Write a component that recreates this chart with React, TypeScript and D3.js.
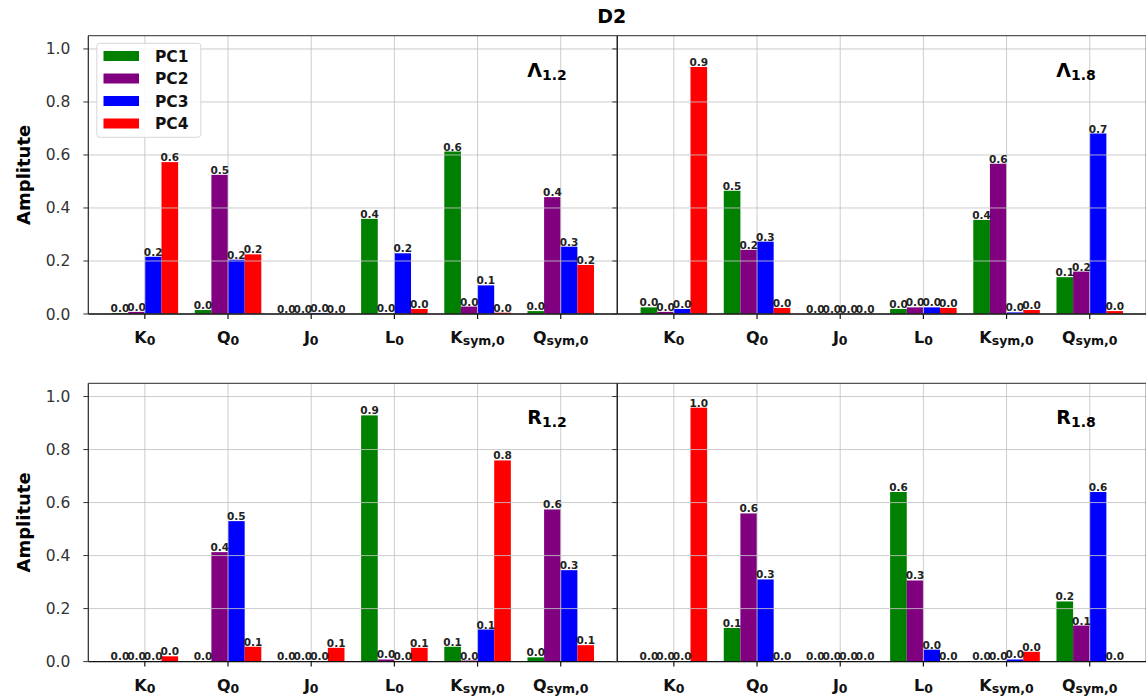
import React from 'react';
import * as d3 from 'd3';

const categoryMain = ['K', 'Q', 'J', 'L', 'K', 'Q'];
const categorySub = ['0', '0', '0', '0', 'sym,0', 'sym,0'];
const seriesNames = ['PC1', 'PC2', 'PC3', 'PC4'];
const seriesColors = ['#008000', '#800080', '#0000ff', '#ff0000'];
const yTicks = [0, 0.2, 0.4, 0.6, 0.8, 1.0];

// rows: PC1..PC4, columns: categories
const lambda12 = [
  [0.004, 0.015, 0.001, 0.359, 0.613, 0.011],
  [0.008, 0.525, 0.001, 0.002, 0.028, 0.441],
  [0.216, 0.205, 0.004, 0.229, 0.108, 0.254],
  [0.573, 0.225, 0.001, 0.019, 0.005, 0.185],
];
const lambda18 = [
  [0.025, 0.465, 0.001, 0.019, 0.355, 0.139],
  [0.008, 0.242, 0.001, 0.025, 0.567, 0.16],
  [0.019, 0.273, 0.001, 0.025, 0.006, 0.681],
  [0.932, 0.023, 0.001, 0.023, 0.015, 0.011],
];
const r12 = [
  [0.001, 0.001, 0.001, 0.929, 0.056, 0.016],
  [0.001, 0.413, 0.001, 0.008, 0.004, 0.574],
  [0.001, 0.53, 0.001, 0.002, 0.121, 0.345],
  [0.02, 0.056, 0.052, 0.052, 0.759, 0.062],
];
const r18 = [
  [0.001, 0.127, 0.001, 0.64, 0.002, 0.227],
  [0.001, 0.559, 0.001, 0.306, 0.001, 0.136],
  [0.001, 0.31, 0.001, 0.045, 0.008, 0.64],
  [0.958, 0.001, 0.001, 0.001, 0.037, 0.001],
];

const W = 1146;
const H = 700;
const PW = 529;
const PH = 278.3;
const FONT = 'DejaVu Sans, sans-serif';

const panels = [
  { data: lambda12, main: 'Λ', sub: '1.2', x0: 88.3, y0: 35.7, left: true, legend: true },
  { data: lambda18, main: 'Λ', sub: '1.8', x0: 617.3, y0: 35.7, left: false, legend: false },
  { data: r12, main: 'R', sub: '1.2', x0: 88.3, y0: 383.3, left: true, legend: false },
  { data: r18, main: 'R', sub: '1.8', x0: 617.3, y0: 383.3, left: false, legend: false },
];

function Panel({ p }: { p: typeof panels[0] }) {
  const x = d3.scaleLinear().domain([-0.68, 5.68]).range([p.x0, p.x0 + PW]);
  const y = d3.scaleLinear().domain([0, 1.05]).range([p.y0 + PH, p.y0]);
  const bw = x(0.2) - x(0);
  const yb = y(0);
  return (
    <g>
      {p.data.map((row, s) =>
        row.map((v, c) => {
          const bx = x(c + (s - 2) * 0.2);
          return (
            <rect key={`b${s}-${c}`} x={bx} y={y(v)} width={bw} height={yb - y(v)} fill={seriesColors[s]} />
          );
        })
      )}
      {yTicks.map((t) => (
        <line key={`gy${t}`} x1={p.x0} x2={p.x0 + PW} y1={y(t)} y2={y(t)} stroke="#c4c4c4" strokeWidth={1} opacity={0.85} />
      ))}
      {categoryMain.map((_, c) => (
        <line key={`gx${c}`} x1={x(c)} x2={x(c)} y1={p.y0} y2={yb} stroke="#c4c4c4" strokeWidth={1} opacity={0.85} />
      ))}
      {p.data.map((row, s) =>
        row.map((v, c) => (
          <text
            key={`l${s}-${c}`}
            x={x(c + (s - 2) * 0.2) + bw / 2}
            y={y(v) - 1}
            textAnchor="middle"
            fontFamily={FONT}
            fontWeight="bold"
            fontSize={10.5}
            fill="#222"
          >
            {v.toFixed(1)}
          </text>
        ))
      )}
      <line x1={p.x0} x2={p.x0 + PW} y1={p.y0} y2={p.y0} stroke="#555" strokeWidth={1.2} />
      <line x1={p.x0} x2={p.x0} y1={p.y0} y2={yb} stroke="#222" strokeWidth={1.2} />
      <line x1={p.x0 + PW} x2={p.x0 + PW} y1={p.y0} y2={yb} stroke="#333" strokeWidth={1.2} />
      <line x1={p.x0} x2={p.x0 + PW} y1={yb} y2={yb} stroke="#111" strokeWidth={1.3} />
      {yTicks.map((t) => (
        <g key={`yt${t}`}>
          <line x1={p.x0 - 5} x2={p.x0} y1={y(t)} y2={y(t)} stroke="#333" strokeWidth={1} />
          {p.left && (
            <text x={p.x0 - 18} y={y(t) + 5.5} textAnchor="end" fontFamily={FONT} fontSize={15.5} fill="#333">
              {t.toFixed(1)}
            </text>
          )}
        </g>
      ))}
      {categoryMain.map((m, c) => (
        <g key={`xt${c}`}>
          <line x1={x(c)} x2={x(c)} y1={yb} y2={yb + 5} stroke="#111" strokeWidth={1.2} />
          <text x={x(c)} y={yb + 29} textAnchor="middle" fontFamily={FONT} fontWeight="bold" fontSize={16} fill="#111">
            {m}
            <tspan fontSize={12.5} dy={2}>{categorySub[c]}</tspan>
          </text>
        </g>
      ))}
      <text x={p.x0 + 439} y={p.y0 + 41} fontFamily={FONT} fontWeight="bold" fontSize={19} fill="#000">
        {p.main}
        <tspan fontSize={14} dy={3}>{p.sub}</tspan>
      </text>
      {p.left && (
        <text
          transform={`translate(30,${(p.y0 + yb) / 2}) rotate(-90)`}
          textAnchor="middle"
          fontFamily={FONT}
          fontWeight="bold"
          fontSize={18}
          fill="#000"
        >
          Amplitute
        </text>
      )}
      {p.legend && (
        <g>
          <rect x={96.8} y={43.3} width={104} height={94} rx={3} fill="#fff" fillOpacity={0.85} stroke="#d6d6d6" />
          {seriesNames.map((n, s) => (
            <g key={n}>
              <rect x={103.5} y={51 + s * 22.5} width={35.5} height={10} fill={seriesColors[s]} />
              <text x={155} y={61.5 + s * 22.5} fontFamily={FONT} fontWeight="bold" fontSize={15.5} fill="#111">
                {n}
              </text>
            </g>
          ))}
        </g>
      )}
    </g>
  );
}

export default function App() {
  return (
    <svg width={W} height={H} style={{ position: 'absolute', left: 0, top: 0, background: '#fff' }}>
      <rect x={0} y={0} width={W} height={H} fill="#fff" />
      <text x={611.7} y={23.3} textAnchor="middle" fontFamily={FONT} fontWeight="bold" fontSize={19}>
        D2
      </text>
      {panels.map((p, i) => (
        <Panel key={i} p={p} />
      ))}
    </svg>
  );
}
